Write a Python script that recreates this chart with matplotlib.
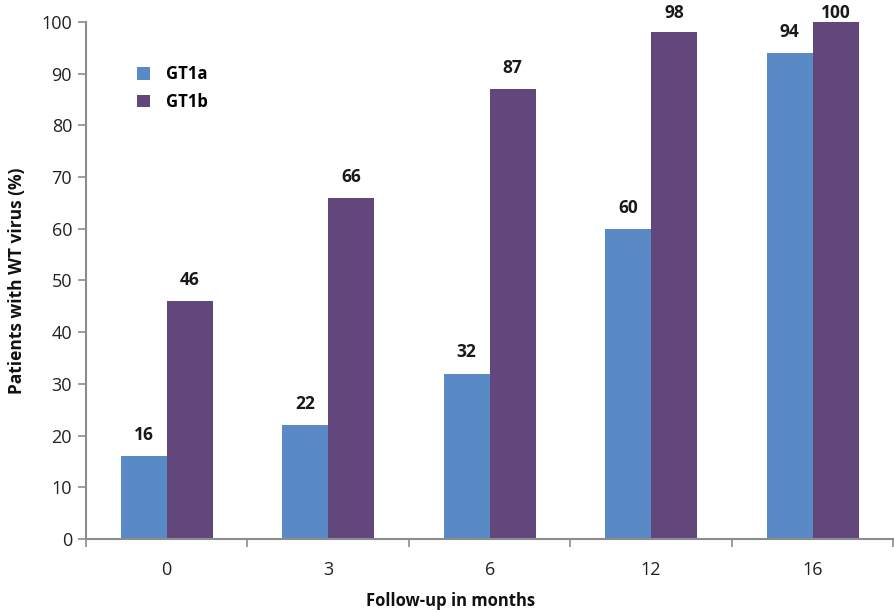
import matplotlib
matplotlib.use("Agg")
import matplotlib.pyplot as plt
import numpy as np

plt.rcParams["font.family"] = ["Open Sans", "DejaVu Sans"]

# Follow-up time points and share of patients with wild-type virus
months = ["0", "3", "6", "12", "16"]
gt1a = [16, 22, 32, 60, 94]
gt1b = [46, 66, 87, 98, 100]

COLORS = {"GT1a": "#5A8AC6", "GT1b": "#61477B"}
AXIS_GREY = "#8C8C8C"

fig = plt.figure(figsize=(8.94, 6.12), dpi=100)
ax = fig.add_axes([0.0962, 0.1193, 0.903, 0.8448])

x = np.arange(len(months))
w = 0.285
bars_a = ax.bar(x - w / 2, gt1a, width=w, color=COLORS["GT1a"], label="GT1a")
bars_b = ax.bar(x + w / 2, gt1b, width=w, color=COLORS["GT1b"], label="GT1b")

# value labels sit above each bar but are kept just inside the top of the figure
LABEL_GAP = 4.1
LABEL_CAP = 101.8
for bars in (bars_a, bars_b):
    for rect in bars:
        val = rect.get_height()
        ax.text(rect.get_x() + rect.get_width() / 2,
                min(val + LABEL_GAP, LABEL_CAP), f"{val:g}",
                ha="center", va="center", fontsize=12.5, fontweight="bold",
                color="#1a1a1a", clip_on=False)

ax.set_xlim(-0.5, len(months) - 0.5)
ax.set_ylim(0, 100)
ax.set_yticks(np.arange(0, 101, 10))
ax.set_xticks(x)
ax.set_xticklabels(months)
ax.set_xticks(np.arange(-0.5, len(months)), minor=True)

ax.tick_params(axis="x", which="major", length=0, pad=16, labelsize=13,
               labelcolor="#222222")
ax.tick_params(axis="x", which="minor", length=6, direction="out",
               color=AXIS_GREY, width=1.2)
ax.tick_params(axis="y", length=6, direction="out", color=AXIS_GREY,
               width=1.2, labelsize=13, labelcolor="#222222", pad=4)

for side in ("top", "right"):
    ax.spines[side].set_visible(False)
for side in ("left", "bottom"):
    ax.spines[side].set_color(AXIS_GREY)
    ax.spines[side].set_linewidth(1.5)

ax.set_xlabel("Follow-up in months", fontsize=12, fontweight="bold",
              color="#111111")
ax.xaxis.set_label_coords(0.451, -0.103)
ax.set_ylabel("Patients with WT virus (%)", fontsize=12.5, fontweight="bold",
              color="#111111")
ax.yaxis.set_label_coords(-0.074, 0.5)

ax.legend(loc="upper left", bbox_to_anchor=(0.045, 0.945), frameon=False,
          handlelength=0.75, handleheight=0.75, handletextpad=1.0,
          labelspacing=0.55, prop={"size": 12, "weight": "bold"})

fig.savefig("out.png", dpi=100)
